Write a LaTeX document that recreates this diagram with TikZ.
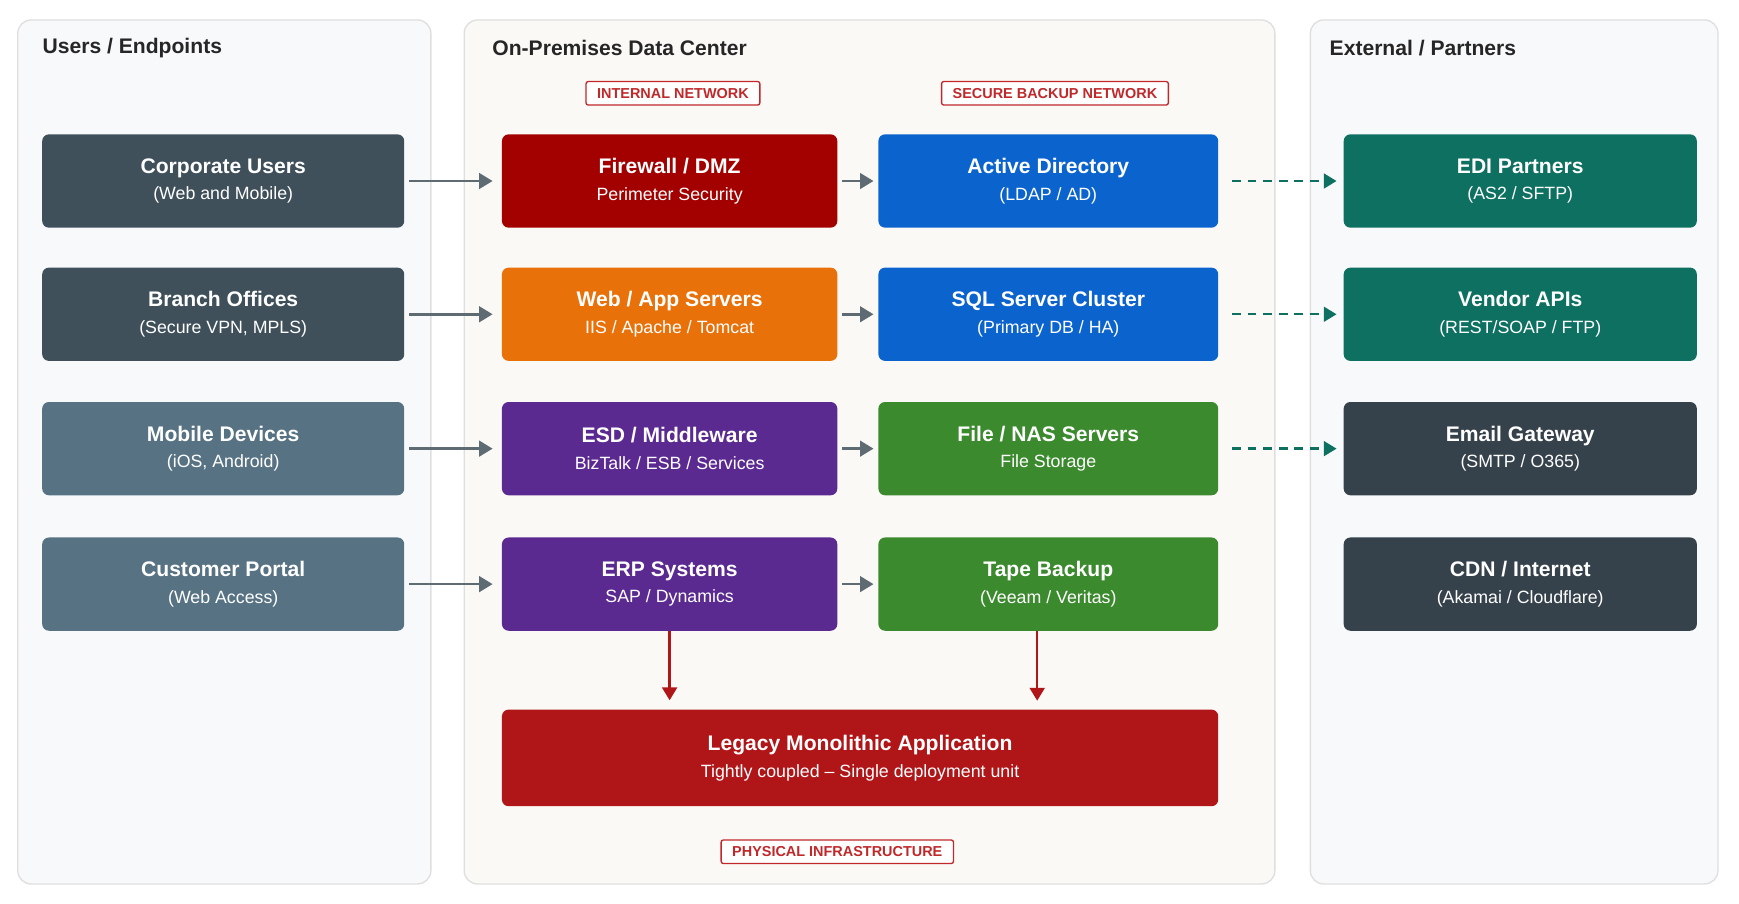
\documentclass[tikz,border=0pt]{standalone}
\usepackage{fontspec}
\setmainfont{Liberation Sans}
\usetikzlibrary{arrows.meta,positioning}
\definecolor{slate}{HTML}{3F505A}
\definecolor{slatel}{HTML}{577383}
\definecolor{fwred}{HTML}{A30000}
\definecolor{webor}{HTML}{E8710A}
\definecolor{purp}{HTML}{5B2A91}
\definecolor{blu}{HTML}{0B63CE}
\definecolor{grn}{HTML}{3B8A2E}
\definecolor{teal}{HTML}{0D7060}
\definecolor{dkgray}{HTML}{36424B}
\definecolor{legred}{HTML}{B01518}
\definecolor{tagred}{HTML}{C0282A}
\definecolor{arrgray}{HTML}{5E6B73}
\tikzset{>=Triangle}

\begin{document}
\begin{tikzpicture}[x=0.5pt,y=-0.5pt,
                    panel/.style={draw=gray!25, rounded corners=6pt, line width=0.6pt},
                    ptitle/.style={anchor=west, inner sep=0pt, font=\bfseries\fontsize{9.5}{11}\selectfont, text=black!85},
                    box/.style={rounded corners=3pt, text=white, align=center,
                                font=\fontsize{8}{12}\selectfont, inner sep=0pt},
                    tag/.style={draw=tagred, fill=white, text=tagred, line width=0.6pt, rounded corners=1pt,
                                font=\bfseries\fontsize{6.5}{7.5}\selectfont, inner xsep=5pt, inner ysep=3pt},
                    flow/.style={->, line width=1.2pt, arrgray, shorten >=1pt},
                    ext/.style={->, line width=1.1pt, teal, dashed, dash pattern=on 4pt off 3pt},
                    down/.style={->, line width=1.1pt, legred},
                   ]

\useasboundingbox (0,0) rectangle (1566,814);
\fill[white] (0,0) rectangle (1566,814);

% panels
\draw[panel, fill={rgb,255:red,248;green,249;blue,251}] (16,18) rectangle (388,796);
\draw[panel, fill={rgb,255:red,251;green,249;blue,246}] (418,18) rectangle (1148,796);
\draw[panel, fill={rgb,255:red,248;green,249;blue,251}] (1180,18) rectangle (1547,796);

\node[ptitle] (t1) at (38,43) {Users / Endpoints};
\node[ptitle] (t2) at (443,43) {On-Premises Data Center};
\node[ptitle] (t3) at (1197,43) {External / Partners};

\node[tag] (inet) at (606,84) {INTERNAL NETWORK};
\node[tag] (bnet) at (950,84) {SECURE BACKUP NETWORK};
\node[tag] (phys) at (754,767) {PHYSICAL INFRASTRUCTURE};

% users
\node[box, fill=slate, minimum width=163pt, minimum height=42pt] (corp) at (201,163)
  {{\bfseries\fontsize{9.5}{12}\selectfont Corporate Users}\\(Web and Mobile)};
\node[box, fill=slate, minimum width=163pt, minimum height=42pt] (branch) at (201,283)
  {{\bfseries\fontsize{9.5}{12}\selectfont Branch Offices}\\(Secure VPN, MPLS)};
\node[box, fill=slatel, minimum width=163pt, minimum height=42pt] (mobile) at (201,404)
  {{\bfseries\fontsize{9.5}{12}\selectfont Mobile Devices}\\(iOS, Android)};
\node[box, fill=slatel, minimum width=163pt, minimum height=42pt] (portal) at (201,526)
  {{\bfseries\fontsize{9.5}{12}\selectfont Customer Portal}\\(Web Access)};

% data center
\node[box, fill=fwred, minimum width=151pt, minimum height=42pt] (fw) at (603,163)
  {{\bfseries\fontsize{9.5}{12}\selectfont Firewall / DMZ}\\Perimeter Security};
\node[box, fill=webor, minimum width=151pt, minimum height=42pt] (web) at (603,283)
  {{\bfseries\fontsize{9.5}{12}\selectfont Web / App Servers}\\IIS / Apache / Tomcat};
\node[box, fill=purp, minimum width=151pt, minimum height=42pt] (esd) at (603,404)
  {{\bfseries\fontsize{9.5}{12}\selectfont ESD / Middleware}\\BizTalk / ESB / Services};
\node[box, fill=purp, minimum width=151pt, minimum height=42pt] (erp) at (603,526)
  {{\bfseries\fontsize{9.5}{12}\selectfont ERP Systems}\\SAP / Dynamics};

\node[box, fill=blu, minimum width=153pt, minimum height=42pt] (ad) at (944,163)
  {{\bfseries\fontsize{9.5}{12}\selectfont Active Directory}\\(LDAP / AD)};
\node[box, fill=blu, minimum width=153pt, minimum height=42pt] (sql) at (944,283)
  {{\bfseries\fontsize{9.5}{12}\selectfont SQL Server Cluster}\\(Primary DB / HA)};
\node[box, fill=grn, minimum width=153pt, minimum height=42pt] (nas) at (944,404)
  {{\bfseries\fontsize{9.5}{12}\selectfont File / NAS Servers}\\File Storage};
\node[box, fill=grn, minimum width=153pt, minimum height=42pt] (tape) at (944,526)
  {{\bfseries\fontsize{9.5}{12}\selectfont Tape Backup}\\(Veeam / Veritas)};

\node[box, fill=legred, minimum width=322.5pt, minimum height=43.5pt] (legacy) at (774.5,682.5)
  {{\bfseries\fontsize{9.5}{12}\selectfont Legacy Monolithic Application}\\Tightly coupled -- Single deployment unit};

% external
\node[box, fill=teal, minimum width=159pt, minimum height=42pt] (edi) at (1369,163)
  {{\bfseries\fontsize{9.5}{12}\selectfont EDI Partners}\\(AS2 / SFTP)};
\node[box, fill=teal, minimum width=159pt, minimum height=42pt] (vendor) at (1369,283)
  {{\bfseries\fontsize{9.5}{12}\selectfont Vendor APIs}\\(REST/SOAP / FTP)};
\node[box, fill=dkgray, minimum width=159pt, minimum height=42pt] (mail) at (1369,404)
  {{\bfseries\fontsize{9.5}{12}\selectfont Email Gateway}\\(SMTP / O365)};
\node[box, fill=dkgray, minimum width=159pt, minimum height=42pt] (cdn) at (1369,526)
  {{\bfseries\fontsize{9.5}{12}\selectfont CDN / Internet}\\(Akamai / Cloudflare)};

% connectors
\foreach \a/\b in {corp/fw, branch/web, mobile/esd, portal/erp}
  \draw[flow, shorten <=2pt, shorten >=4pt] (\a) -- (\b);
\foreach \a/\b in {fw/ad, web/sql, esd/nas, erp/tape}
  \draw[flow, shorten <=2pt, shorten >=2pt] (\a) -- (\b);
\foreach \a/\b in {ad/edi, sql/vendor, nas/mail}
  \draw[ext, shorten <=6pt, shorten >=3pt] (\a) -- (\b);
\coordinate (tapein) at (934,639);
\draw[down, shorten >=4pt] (erp) -- (erp |- legacy.north);
\draw[down, shorten >=4pt] (tape.south -| tapein) -- (tapein);

\end{tikzpicture}
\end{document}
